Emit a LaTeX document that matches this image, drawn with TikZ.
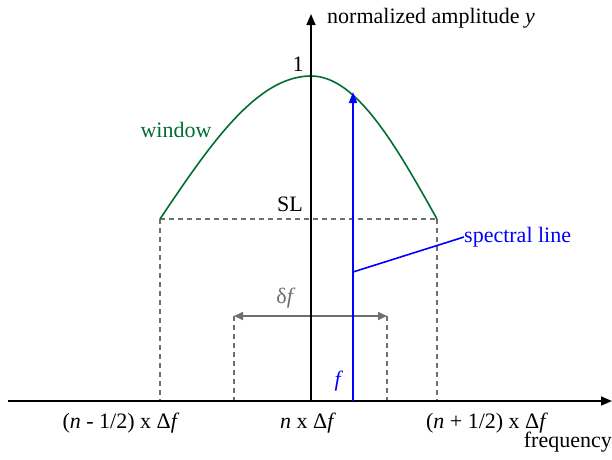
\documentclass[tikz,border=0pt]{standalone}
\usepackage{fontspec}
\setmainfont{Liberation Serif}
\usetikzlibrary{arrows.meta}
\definecolor{wingreen}{RGB}{0,110,50}
\definecolor{dgray}{RGB}{110,110,110}
\definecolor{lblue}{RGB}{0,0,255}
\begin{document}
\begin{tikzpicture}[x=1pt,y=-1pt,
  axisline/.style={line width=1.6pt,black,-{Triangle[length=11pt,width=9pt]}},
  grayguide/.style={line width=1.6pt,dgray,dash pattern=on 5pt off 4pt},
  graytip/.style={line width=1.6pt,dgray,{Triangle[length=9pt,width=8pt]}-{Triangle[length=9pt,width=8pt]}},
  lbl/.style={font=\fontsize{22}{26}\selectfont,inner sep=0pt}]
\useasboundingbox (0,0) rectangle (612,459);
% coordinates
\coordinate (xs) at (8,401);
\coordinate (xe) at (612,401);
\coordinate (ys) at (311,401);
\coordinate (ye) at (311,14);
\coordinate (wl) at (160,219);
\coordinate (wr) at (437,219);
\coordinate (wlb) at (160,401);
\coordinate (wrb) at (437,401);
\coordinate (dl) at (234,316);
\coordinate (dr) at (387,316);
\coordinate (dlb) at (234,401);
\coordinate (drb) at (387,401);
\coordinate (bs) at (353,401);
\coordinate (be) at (353,92);
\coordinate (bm) at (353,272);
% dashed gray
\draw[grayguide] (wl) -- (wr);
\draw[grayguide] (wl) -- (wlb);
\draw[grayguide] (wr) -- (wrb);
\draw[grayguide] (dl) -- (dlb);
\draw[grayguide] (dr) -- (drb);
\draw[graytip] (dl) -- (dr);
% window curve
\draw[wingreen,line width=1.6pt] plot[domain=1:0,samples=50] ({311-151*\x},{76+143*(1-cos(90*\x))})
  -- plot[domain=0:1,samples=50] ({311+126*\x},{76+143*(1-cos(90*\x))});
% axes
\draw[axisline] (xs) -- (xe);
\draw[axisline] (ys) -- (ye);
% spectral line
\draw[lblue,line width=1.6pt,-{Triangle[length=11pt,width=8pt]}] (bs) -- (be);
\node[lbl,lblue,anchor=west] (spl) at (464,237) {spectral line};
\draw[lblue,line width=1.6pt] (bm) -- (spl.west);
% labels
\node[lbl,anchor=west] (ylab) at (327,18) {normalized amplitude \textit{y}};
\node[lbl] (one) at (298,64) {1};
\node[lbl] (sl) at (290,204) {SL};
\node[lbl,wingreen] (win) at (176,130) {window};
\node[lbl,dgray] (df) at (286,298) {δ\textit{f}};
\node[lbl,lblue] (f) at (339,381) {\textit{f}};
\node[lbl] (l1) at (121,423) {(\textit{n} - 1/2) x Δ\textit{f}};
\node[lbl] (l2) at (308,423) {\textit{n} x Δ\textit{f}};
\node[lbl] (l3) at (487,423) {(\textit{n} + 1/2) x Δ\textit{f}};
\node[lbl,anchor=east] (fr) at (612,442) {frequency};
\end{tikzpicture}
\end{document}
